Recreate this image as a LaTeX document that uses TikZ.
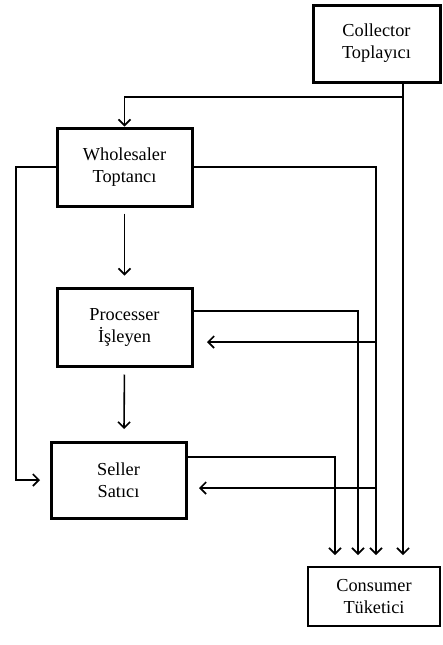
\documentclass[tikz,border=0pt]{standalone}
\usepackage{fontspec}
\setmainfont{Liberation Serif}
\usetikzlibrary{arrows.meta,calc}
\begin{document}
\begin{tikzpicture}[x=1pt,y=-1pt,
  box/.style={draw,line width=3pt,align=center,inner sep=0pt,
    font=\fontsize{18.3}{22}\selectfont},
  conn/.style={line width=1.6pt},
  arr/.style={conn,-{Straight Barb[length=6pt,width=12pt,line width=1.6pt]}}]
\useasboundingbox (0,0) rectangle (442,645);
\node[box,minimum width=127pt,minimum height=77pt] (col) at (376.5,43.5) {Collector\\Toplayıcı};
\node[box,minimum width=135pt,minimum height=78pt] (who) at (124.5,167) {Wholesaler\\Toptancı};
\node[box,minimum width=135pt,minimum height=78pt] (pro) at (124.5,327) {Processer\\İşleyen};
\node[box,minimum width=135pt,minimum height=76pt] (sel) at (118.5,480) {Seller\\Satıcı};
\node[box,line width=2.2pt,minimum width=132pt,minimum height=59pt] (con) at (374,596.5) {Consumer\\Tüketici};
% coordinates
\coordinate (cb) at (403,97);
\coordinate (e1) at (403,555);
\coordinate (e2) at (376,555);
\coordinate (e3) at (358,555);
\coordinate (e4) at (335,555);
\coordinate (wl) at (16,167);
\coordinate (sl) at (40,480);
\coordinate (pa) at (376,342);
\coordinate (pt) at (207,342);
\coordinate (sa) at (376,488);
\coordinate (st) at (199,488);
% connectors
\draw[arr] (col.south -| e1) -- (e1);
\draw[arr] (cb) -| (who.north);
\draw[arr] (who.east |- who.center) -| (e2);
\draw[arr] (who.west) -- (wl) |- (sl);
\draw[arr,shorten <=6pt,shorten >=11pt] (who.south) -- (pro.north);
\draw[arr] (pro.east |- 0,311) -| (e3);
\draw[arr] (pa) -- (pt);
\draw[arr,shorten <=7pt] (pro.south) -- (124,429);
\draw[arr] (sel.east |- 0,457) -| (e4);
\draw[arr] (sa) -- (st);
\end{tikzpicture}
\end{document}
